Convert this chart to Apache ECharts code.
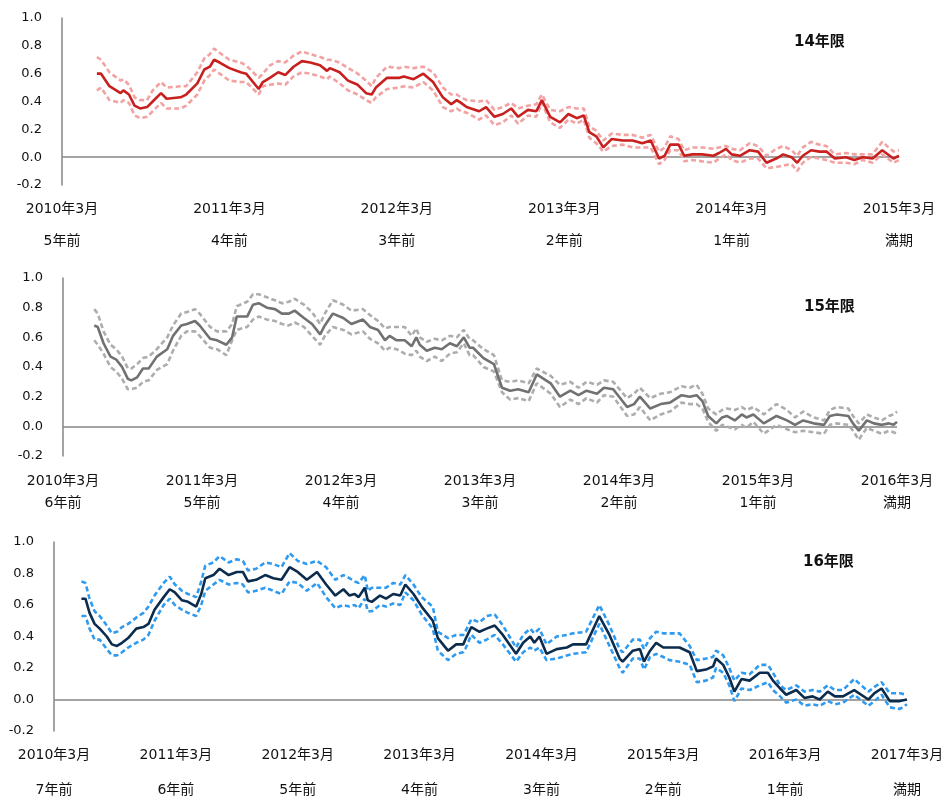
<!DOCTYPE html>
<html>
<head>
<meta charset="utf-8">
<script src="https://cdn.jsdelivr.net/npm/echarts@6/dist/echarts.min.js"></script>
<style>html,body{margin:0;padding:0;background:#fff}#c{width:947px;height:800px}</style>
</head>
<body>
<div id="c"></div>
<script>
// ---------- data (x = months since 2010年3月) ----------
const yTicks = [-0.2, 0, 0.2, 0.4, 0.6, 0.8, 1.0];

// Panel 1: 14年限
const title1 = '14年限';
const dates1 = ['2010年3月','2011年3月','2012年3月','2013年3月','2014年3月','2015年3月'];
const ago1 = ['5年前','4年前','3年前','2年前','1年前','満期'];
const months1 = [2.5,2.8,3.4,4.2,4.4,4.8,5.2,5.6,6.1,6.5,7.1,7.5,8.5,8.9,9.7,10.2,10.6,10.9,11.3,12.0,12.8,13.2,14.1,14.4,14.9,15.5,16.0,16.6,17.2,17.8,18.5,19.0,19.2,19.9,20.5,21.2,21.8,22.2,22.5,23.3,24.2,24.5,25.2,25.9,26.6,27.3,27.9,28.3,28.6,
  29.0,29.9,30.4,31.0,31.6,32.2,32.7,33.4,34.0,34.4,35.0,35.7,36.3,36.9,37.4,37.8,38.3,38.8,39.4,40.2,40.9,41.6,42.2,42.8,43.2,43.6,44.2,44.6,45.2,45.9,46.7,47.1,47.6,48.0,48.6,49.3,49.9,50.5,51.2,51.7,52.3,52.7,53.1,53.7,54.3,54.8,55.4,56.2,56.8,57.4,58.1,58.8,59.6,60.0];
const mid1 = [0.60,0.60,0.51,0.46,0.48,0.45,0.37,0.35,0.36,0.40,0.46,0.42,0.43,0.45,0.53,0.63,0.65,0.70,0.68,0.64,0.61,0.60,0.49,0.54,0.57,0.61,0.59,0.65,0.69,0.68,0.66,0.62,0.64,0.61,0.55,0.52,0.46,0.45,0.50,0.57,0.57,0.58,0.56,0.60,0.54,0.43,0.38,0.41,0.39,
  0.36,0.33,0.36,0.29,0.31,0.35,0.29,0.34,0.33,0.41,0.29,0.25,0.31,0.28,0.30,0.18,0.15,0.07,0.13,0.12,0.12,0.10,0.12,-0.01,0.01,0.09,0.09,0.01,0.02,0.02,0.01,0.03,0.06,0.02,0.01,0.05,0.04,-0.04,-0.01,0.02,0.00,-0.04,0.01,0.05,0.04,0.04,-0.01,0.00,-0.02,0.00,-0.01,0.05,-0.01,0.01];
const up1 = [0.72,0.70,0.61,0.55,0.56,0.52,0.43,0.41,0.41,0.48,0.54,0.50,0.51,0.51,0.61,0.71,0.74,0.78,0.75,0.70,0.68,0.66,0.57,0.60,0.66,0.69,0.68,0.73,0.76,0.74,0.72,0.70,0.70,0.68,0.64,0.60,0.55,0.51,0.57,0.65,0.64,0.65,0.64,0.65,0.61,0.50,0.45,0.45,0.43,
  0.41,0.40,0.41,0.34,0.36,0.39,0.35,0.37,0.38,0.45,0.34,0.33,0.36,0.35,0.35,0.22,0.19,0.12,0.17,0.16,0.16,0.14,0.16,0.04,0.07,0.15,0.13,0.05,0.07,0.07,0.06,0.07,0.08,0.06,0.05,0.10,0.08,0.01,0.06,0.08,0.05,0.01,0.07,0.11,0.09,0.08,0.02,0.03,0.02,0.02,0.02,0.11,0.04,0.05];
const lo1 = [0.48,0.50,0.41,0.39,0.41,0.39,0.30,0.28,0.29,0.33,0.39,0.35,0.35,0.37,0.45,0.55,0.59,0.63,0.60,0.55,0.54,0.54,0.45,0.51,0.52,0.53,0.52,0.58,0.61,0.60,0.58,0.56,0.58,0.53,0.48,0.45,0.41,0.39,0.43,0.49,0.50,0.51,0.50,0.54,0.48,0.36,0.33,0.35,0.33,
  0.32,0.27,0.30,0.23,0.25,0.30,0.24,0.30,0.29,0.39,0.25,0.21,0.27,0.24,0.27,0.14,0.10,0.04,0.08,0.09,0.07,0.07,0.07,-0.05,-0.02,0.05,0.05,-0.03,-0.02,-0.03,-0.04,-0.01,0.02,-0.02,-0.04,-0.01,-0.01,-0.08,-0.07,-0.06,-0.05,-0.10,-0.04,0.00,-0.01,-0.02,-0.04,-0.04,-0.05,-0.02,-0.04,0.02,-0.04,-0.02];

// Panel 2: 15年限
const title2 = '15年限';
const dates2 = ['2010年3月','2011年3月','2012年3月','2013年3月','2014年3月','2015年3月','2016年3月'];
const ago2 = ['6年前','5年前','4年前','3年前','2年前','1年前','満期'];
const months2 = [2.7,3.0,3.5,4.1,4.6,5.1,5.6,5.9,6.4,6.9,7.4,8.1,9.0,9.5,10.2,10.7,11.4,11.8,12.7,13.3,14.1,14.6,15.0,15.9,16.4,16.9,17.6,18.3,18.9,19.5,20.0,20.8,21.5,22.2,22.6,23.3,24.2,24.9,25.9,26.5,27.2,27.8,28.2,28.8,29.5,30.1,30.5,30.8,31.4,32.1,32.7,33.4,34.0,34.6,35.1,
  35.4,36.3,37.2,37.9,38.6,39.3,40.2,40.9,42.1,42.9,43.8,44.5,45.2,46.1,46.7,47.5,48.7,49.3,49.8,50.7,51.6,52.4,53.4,54.1,54.7,55.2,55.7,56.4,56.9,57.3,58.0,58.6,59.0,59.6,60.5,61.6,62.5,63.2,63.9,64.8,65.7,66.2,66.8,67.8,68.2,68.7,69.4,70.0,70.7,71.3,71.7,72.0];
const mid2 = [0.68,0.67,0.56,0.47,0.45,0.40,0.32,0.31,0.33,0.39,0.39,0.47,0.52,0.61,0.68,0.69,0.71,0.68,0.59,0.58,0.55,0.60,0.74,0.74,0.82,0.83,0.80,0.79,0.76,0.76,0.78,0.73,0.69,0.62,0.68,0.76,0.73,0.69,0.72,0.67,0.65,0.58,0.61,0.58,0.58,0.54,0.60,0.55,0.51,0.53,0.52,0.56,0.54,0.60,0.53,
  0.53,0.46,0.42,0.26,0.24,0.25,0.23,0.35,0.29,0.20,0.24,0.21,0.24,0.22,0.26,0.25,0.13,0.15,0.20,0.12,0.15,0.16,0.21,0.20,0.21,0.17,0.07,0.02,0.06,0.07,0.04,0.08,0.06,0.08,0.02,0.07,0.04,0.01,0.04,0.02,0.01,0.07,0.08,0.07,0.02,-0.03,0.04,0.02,0.01,0.02,0.01,0.03];
const up2 = [0.79,0.76,0.64,0.55,0.52,0.47,0.39,0.39,0.42,0.46,0.47,0.52,0.60,0.68,0.76,0.77,0.79,0.76,0.67,0.64,0.64,0.69,0.81,0.84,0.89,0.89,0.87,0.85,0.83,0.84,0.86,0.82,0.77,0.69,0.76,0.85,0.82,0.78,0.79,0.75,0.71,0.66,0.67,0.67,0.67,0.61,0.66,0.60,0.57,0.59,0.58,0.61,0.60,0.65,0.59,
  0.58,0.52,0.48,0.31,0.30,0.31,0.29,0.39,0.34,0.28,0.30,0.26,0.30,0.28,0.31,0.30,0.19,0.22,0.26,0.19,0.22,0.23,0.27,0.26,0.28,0.22,0.12,0.08,0.11,0.12,0.11,0.13,0.11,0.13,0.08,0.15,0.11,0.06,0.10,0.06,0.04,0.11,0.13,0.12,0.07,0.02,0.08,0.06,0.04,0.07,0.08,0.10];
const lo2 = [0.58,0.55,0.49,0.40,0.37,0.32,0.25,0.25,0.26,0.30,0.31,0.38,0.42,0.51,0.61,0.64,0.64,0.61,0.53,0.52,0.48,0.58,0.65,0.67,0.72,0.74,0.72,0.71,0.69,0.68,0.70,0.67,0.61,0.55,0.61,0.67,0.65,0.62,0.64,0.59,0.56,0.51,0.53,0.52,0.49,0.48,0.51,0.47,0.44,0.47,0.44,0.49,0.50,0.56,0.48,
  0.48,0.40,0.37,0.23,0.18,0.19,0.17,0.29,0.22,0.13,0.18,0.15,0.19,0.16,0.21,0.20,0.07,0.08,0.13,0.04,0.08,0.10,0.16,0.15,0.15,0.12,0.03,-0.03,0.01,0.00,-0.02,0.01,-0.01,0.03,-0.05,0.01,-0.02,-0.04,-0.03,-0.04,-0.05,0.01,0.02,0.01,-0.03,-0.09,-0.01,-0.03,-0.05,-0.03,-0.04,-0.05];

// Panel 3: 16年限
const title3 = '16年限';
const dates3 = ['2010年3月','2011年3月','2012年3月','2013年3月','2014年3月','2015年3月','2016年3月','2017年3月'];
const ago3 = ['7年前','6年前','5年前','4年前','3年前','2年前','1年前','満期'];
const months3 = [2.7,3.1,3.5,4.0,4.5,5.2,5.7,6.2,6.7,7.3,8.1,8.8,9.3,9.9,10.8,11.4,11.9,12.6,13.2,14.0,14.5,14.9,15.7,16.3,17.2,18.0,18.6,19.1,19.9,20.8,21.6,22.4,23.2,24.0,24.9,25.9,26.8,27.7,28.5,29.1,29.6,30.0,30.6,30.9,31.3,32.1,32.7,33.4,34.1,34.6,35.4,36.2,37.3,37.8,38.8,39.6,40.3,
  40.5,41.1,41.9,42.6,43.4,44.2,45.5,46.2,46.9,47.3,47.8,48.5,49.5,50.5,51.1,52.4,53.7,54.7,55.7,56.0,57.0,57.7,58.1,58.7,59.3,60.0,60.6,61.6,62.6,63.3,64.2,64.9,65.2,65.9,66.5,67.0,67.7,68.5,69.5,70.3,70.8,71.5,72.1,73.1,73.9,74.7,75.4,76.2,76.9,77.7,78.8,80.2,80.8,81.5,82.3,83.3,84.0];
const mid3 = [0.64,0.64,0.55,0.48,0.45,0.40,0.35,0.34,0.36,0.39,0.45,0.46,0.48,0.57,0.65,0.70,0.68,0.63,0.62,0.59,0.67,0.77,0.79,0.83,0.79,0.81,0.81,0.75,0.76,0.79,0.77,0.76,0.84,0.81,0.76,0.81,0.73,0.66,0.70,0.66,0.67,0.65,0.71,0.63,0.62,0.66,0.64,0.67,0.66,0.73,0.67,0.59,0.50,0.39,0.31,0.35,0.35,
  0.38,0.46,0.43,0.45,0.47,0.41,0.29,0.36,0.40,0.36,0.40,0.29,0.32,0.33,0.35,0.35,0.53,0.41,0.26,0.24,0.31,0.32,0.24,0.31,0.36,0.33,0.33,0.33,0.30,0.18,0.19,0.21,0.26,0.22,0.14,0.05,0.13,0.12,0.17,0.17,0.12,0.07,0.03,0.06,0.01,0.02,0.00,0.05,0.02,0.02,0.06,0.00,0.04,0.07,-0.01,-0.01,0.00];
const up3 = [0.75,0.74,0.64,0.56,0.53,0.47,0.42,0.43,0.46,0.48,0.52,0.55,0.59,0.66,0.74,0.78,0.73,0.69,0.67,0.65,0.75,0.85,0.87,0.91,0.87,0.89,0.88,0.82,0.83,0.87,0.86,0.84,0.93,0.88,0.86,0.88,0.84,0.76,0.79,0.77,0.75,0.74,0.79,0.69,0.71,0.71,0.71,0.74,0.73,0.79,0.73,0.65,0.59,0.43,0.39,0.41,0.41,
  0.43,0.51,0.49,0.53,0.54,0.47,0.33,0.41,0.45,0.42,0.45,0.35,0.40,0.41,0.42,0.43,0.60,0.47,0.32,0.30,0.38,0.38,0.32,0.39,0.43,0.42,0.42,0.42,0.34,0.25,0.26,0.27,0.31,0.28,0.20,0.12,0.17,0.16,0.22,0.22,0.17,0.09,0.06,0.09,0.05,0.06,0.05,0.09,0.06,0.06,0.13,0.05,0.08,0.11,0.04,0.04,0.03];
const lo3 = [0.53,0.53,0.45,0.38,0.38,0.32,0.28,0.28,0.30,0.33,0.36,0.38,0.41,0.50,0.60,0.64,0.60,0.57,0.55,0.53,0.60,0.69,0.73,0.76,0.73,0.74,0.73,0.68,0.69,0.71,0.69,0.67,0.75,0.74,0.69,0.74,0.65,0.58,0.60,0.59,0.60,0.58,0.64,0.56,0.56,0.60,0.59,0.61,0.60,0.68,0.63,0.54,0.45,0.31,0.25,0.29,0.30,
  0.32,0.41,0.36,0.38,0.41,0.35,0.24,0.30,0.33,0.31,0.33,0.25,0.26,0.28,0.29,0.30,0.48,0.34,0.20,0.17,0.26,0.26,0.19,0.27,0.29,0.27,0.25,0.24,0.22,0.11,0.12,0.14,0.20,0.17,0.09,-0.01,0.07,0.06,0.09,0.11,0.06,0.02,-0.02,0.00,-0.04,-0.03,-0.04,-0.01,-0.03,-0.02,0.03,-0.04,-0.01,0.03,-0.05,-0.06,-0.03];

// ---------- chart ----------
const FONT = 'Verdana, "DejaVu Sans", "Noto Sans CJK JP", sans-serif';
const panels = [
  {title: title1, dates: dates1, ago: ago1, m: months1, mid: mid1, up: up1, lo: lo1,
   grid: {left: 62, right: 48, top: 18, height: 167}, lh: 32, margin: 8,
   mainColor: '#C8201E', bandColor: '#F2A2A2', titlePos: [789, 30]},
  {title: title2, dates: dates2, ago: ago2, m: months2, mid: mid2, up: up2, lo: lo2,
   grid: {left: 63, right: 50, top: 278, height: 178}, lh: 22, margin: 14,
   mainColor: '#717171', bandColor: '#ADADAD', titlePos: [799, 295]},
  {title: title3, dates: dates3, ago: ago3, m: months3, mid: mid3, up: up3, lo: lo3,
   grid: {left: 54, right: 40, top: 542, height: 189}, lh: 35, margin: 7,
   mainColor: '#0C2C4D', bandColor: '#2F9BF0', titlePos: [798, 550]}
];

const option = {
  animation: false,
  textStyle: {fontFamily: FONT},
  grid: [], xAxis: [], yAxis: [], series: [], title: []
};

panels.forEach((p, i) => {
  const maxM = (p.dates.length - 1) * 12;
  option.grid.push(Object.assign({containLabel: false, outerBoundsMode: 'none'}, p.grid));
  option.title.push({text: p.title, left: p.titlePos[0], top: p.titlePos[1],
    textStyle: {fontFamily: FONT, fontSize: 15, fontWeight: 'bold', color: '#111'}});
  option.xAxis.push({
    type: 'value', gridIndex: i, min: 0, max: maxM, interval: 12,
    axisLine: {show: false}, axisTick: {show: false}, splitLine: {show: false},
    axisLabel: {
      margin: p.margin, color: '#111', fontSize: 14, fontFamily: FONT,
      lineHeight: p.lh, showMinLabel: true, showMaxLabel: true,
      formatter: v => { const k = Math.round(v / 12); return p.dates[k] + '\n' + p.ago[k]; }
    }
  });
  option.yAxis.push({
    type: 'value', gridIndex: i, min: yTicks[0], max: yTicks[yTicks.length - 1], interval: 0.2,
    axisLine: {show: true, onZero: false, lineStyle: {color: '#868686', width: 1.5}},
    axisTick: {show: false}, splitLine: {show: false},
    axisLabel: {margin: 20, color: '#111', fontSize: 13, fontFamily: FONT,
      formatter: v => v.toFixed(1)}
  });
  const pairs = arr => p.m.map((x, j) => [x, arr[j]]);
  const band = arr => ({
    type: 'line', xAxisIndex: i, yAxisIndex: i, data: pairs(arr), showSymbol: false, symbol: 'none',
    lineStyle: {color: p.bandColor, width: 2.6, type: [5, 3], cap: 'butt'}, z: 2
  });
  option.series.push(band(p.up), band(p.lo));
  option.series.push({
    type: 'line', xAxisIndex: i, yAxisIndex: i, data: pairs(p.mid), showSymbol: false, symbol: 'none',
    lineStyle: {color: p.mainColor, width: 2.6}, z: 3,
    markLine: {silent: true, symbol: 'none', label: {show: false},
      lineStyle: {color: '#868686', width: 1.5, type: 'solid'}, data: [{yAxis: 0}], z: 1}
  });
});

const chart = echarts.init(document.getElementById('c'), null, {renderer: 'canvas'});
chart.setOption(option);
</script>
</body>
</html>
